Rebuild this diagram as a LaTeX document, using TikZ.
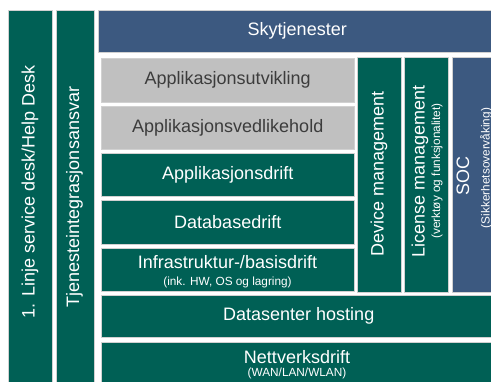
\documentclass[tikz,border=0pt]{standalone}
\usepackage{fontspec}
\setmainfont{Liberation Sans}
\definecolor{tealbox}{RGB}{0,96,85}
\definecolor{bluebox}{RGB}{60,89,128}
\definecolor{graybox}{RGB}{192,192,192}
\definecolor{graytext}{RGB}{60,60,60}
\begin{document}
\begin{tikzpicture}[x=1pt,y=-1pt,
  box/.style={draw=white!82!black, line width=0.5pt, fill=tealbox, text=white,
    inner sep=0pt, anchor=north west, align=center,
    font=\fontsize{18}{20}\selectfont},
  tealb/.style={box, fill=tealbox},
  blueb/.style={box, fill=bluebox},
  grayb/.style={box, fill=graybox, text=graytext},
  big/.style={text=white, inner sep=0pt, font=\fontsize{18}{20}\selectfont},
  small/.style={text=white, inner sep=0pt, font=\fontsize{11.8}{13}\selectfont},
]
\useasboundingbox (0,0) rectangle (491,381);
\begin{scope}
\clip (0,0) rectangle (491,381);
% left columns
\node[tealb, minimum width=44pt, minimum height=385pt] (col1) at (8,9.5) {};
\node[big, rotate=90] (col1t) at (30,192) {1. Linje service desk/Help Desk};
\node[tealb, minimum width=38pt, minimum height=385pt] (col2) at (55.5,9.5) {};
\node[big, rotate=90] (col2t) at (74.5,197) {Tjenesteintegrasjonsansvar};
% top
\node[blueb, minimum width=398pt, minimum height=42.5pt] (sky) at (98,9.5) {Skytjenester};
% stacked rows
\node[grayb, minimum width=253pt, minimum height=44pt] (app1) at (101,58) {Applikasjonsutvikling};
\node[grayb, minimum width=253pt, minimum height=43pt] (app2) at (101,106) {Applikasjonsvedlikehold};
\node[tealb, minimum width=253pt, minimum height=43pt] (app3) at (101,153) {Applikasjonsdrift};
\node[tealb, minimum width=253pt, minimum height=44pt] (db) at (101,200) {Databasedrift};
\node[tealb, minimum width=253pt, minimum height=43pt] (infra) at (101,248) {};
\node[big] (infrat) at (227.5,262) {Infrastruktur-/basisdrift};
\node[small] (infras) at (227.5,282) {(ink. HW, OS og lagring)};
% vertical boxes
\node[tealb, minimum width=44pt, minimum height=235pt] (dev) at (357,57) {};
\node[big, rotate=90] (devt) at (379,174) {Device management};
\node[tealb, minimum width=44pt, minimum height=235pt] (lic) at (404,57) {};
\node[big, rotate=90] (lict) at (420,171) {License management};
\node[small, rotate=90] (lics) at (437,171) {(verktøy og funksjonalitet)};
\node[blueb, minimum width=47pt, minimum height=235pt] (soc) at (451.5,57) {};
\node[big, rotate=90] (soct) at (463,176) {SOC};
\node[small, rotate=90] (socs) at (486,168) {(Sikkerhetsovervåking)};
% bottom rows
\node[tealb, minimum width=395pt, minimum height=42pt] (dc) at (101,295) {Datasenter hosting};
\node[tealb, minimum width=395pt, minimum height=60pt] (net) at (101,342) {};
\node[big] (nett) at (297,357) {Nettverksdrift};
\node[small] (nets) at (297,373) {(WAN/LAN/WLAN)};
\end{scope}
\end{tikzpicture}
\end{document}
